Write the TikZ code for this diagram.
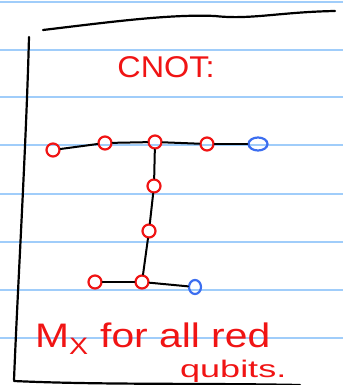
\documentclass[tikz,border=0pt]{standalone}
\usepackage{fontspec}
\setmainfont{Liberation Sans}
\usetikzlibrary{shapes.geometric}
\definecolor{ruled}{RGB}{160,205,250}
\definecolor{inkred}{RGB}{240,20,20}
\definecolor{inkblue}{RGB}{60,110,240}
\tikzset{
  rq/.style={ellipse,draw=inkred,line width=2.2pt,minimum width=13pt,minimum height=13pt,inner sep=0pt},
  bq/.style={ellipse,draw=inkblue,line width=2.2pt,minimum width=19pt,minimum height=13pt,inner sep=0pt},
  bqs/.style={ellipse,draw=inkblue,line width=2.2pt,minimum width=12pt,minimum height=14pt,inner sep=0pt},
  wire/.style={draw=black,line width=2pt,line cap=round},
  frame/.style={draw=black,line width=2.2pt,line cap=round},
  rule/.style={draw=ruled,line width=1.8pt},
  redtext/.style={text=inkred,inner sep=0pt}
}
\begin{document}
\begin{tikzpicture}[x=1pt,y=-1pt]
\useasboundingbox (0,0) rectangle (343,385);
\fill[white] (0,0) rectangle (343,385);
% ruled lines
\foreach \yy in {2,50,97,145,194,242,290,338}
  \draw[rule] (0,\yy) -- (343,\yy);
% frame
\draw[frame] (43,30) .. controls (110,22) and (170,14) .. (215,16)
  .. controls (250,20) and (280,12) .. (335,11);
\draw[frame] (29,37) .. controls (26,150) and (18,280) .. (14,380);
\draw[frame] (14,381) .. controls (100,385) and (200,383) .. (300,385);
% title
\node[redtext,font=\fontsize{30}{32}\selectfont] (title) at (166,67) {\scalebox{1.08}[1]{CNOT:}};
% qubits
\node[rq] (c1) at (53,150) {};
\node[rq] (c2) at (105,143) {};
\node[rq] (c3) at (155,142) {};
\node[rq] (c4) at (207,144) {};
\node[bq] (c5) at (258,144) {};
\node[rq] (c6) at (154,186) {};
\node[rq] (c7) at (149,231) {};
\node[rq] (c8) at (95,282) {};
\node[rq] (c9) at (142,282) {};
\node[bqs] (c10) at (195,287) {};
% wires
\draw[wire] (c1) -- (c2);
\draw[wire] (c2) -- (c3);
\draw[wire] (c3) -- (c4);
\draw[wire] (c4) -- (c5);
\draw[wire] (c3) -- (c6);
\draw[wire] (c6) -- (c7);
\draw[wire] (c7) -- (c9);
\draw[wire] (c8) -- (c9);
\draw[wire] (c9) -- (c10);
% bottom text
\node[redtext,font=\fontsize{34}{36}\selectfont,anchor=base west] (mx) at (35,347) {\scalebox{1.2}[1]{M\textsubscript{X} for all red}};
\node[redtext,font=\fontsize{24}{26}\selectfont,anchor=base west] (qb) at (180,377) {\scalebox{1.5}[1]{qubits.}};
\end{tikzpicture}
\end{document}
